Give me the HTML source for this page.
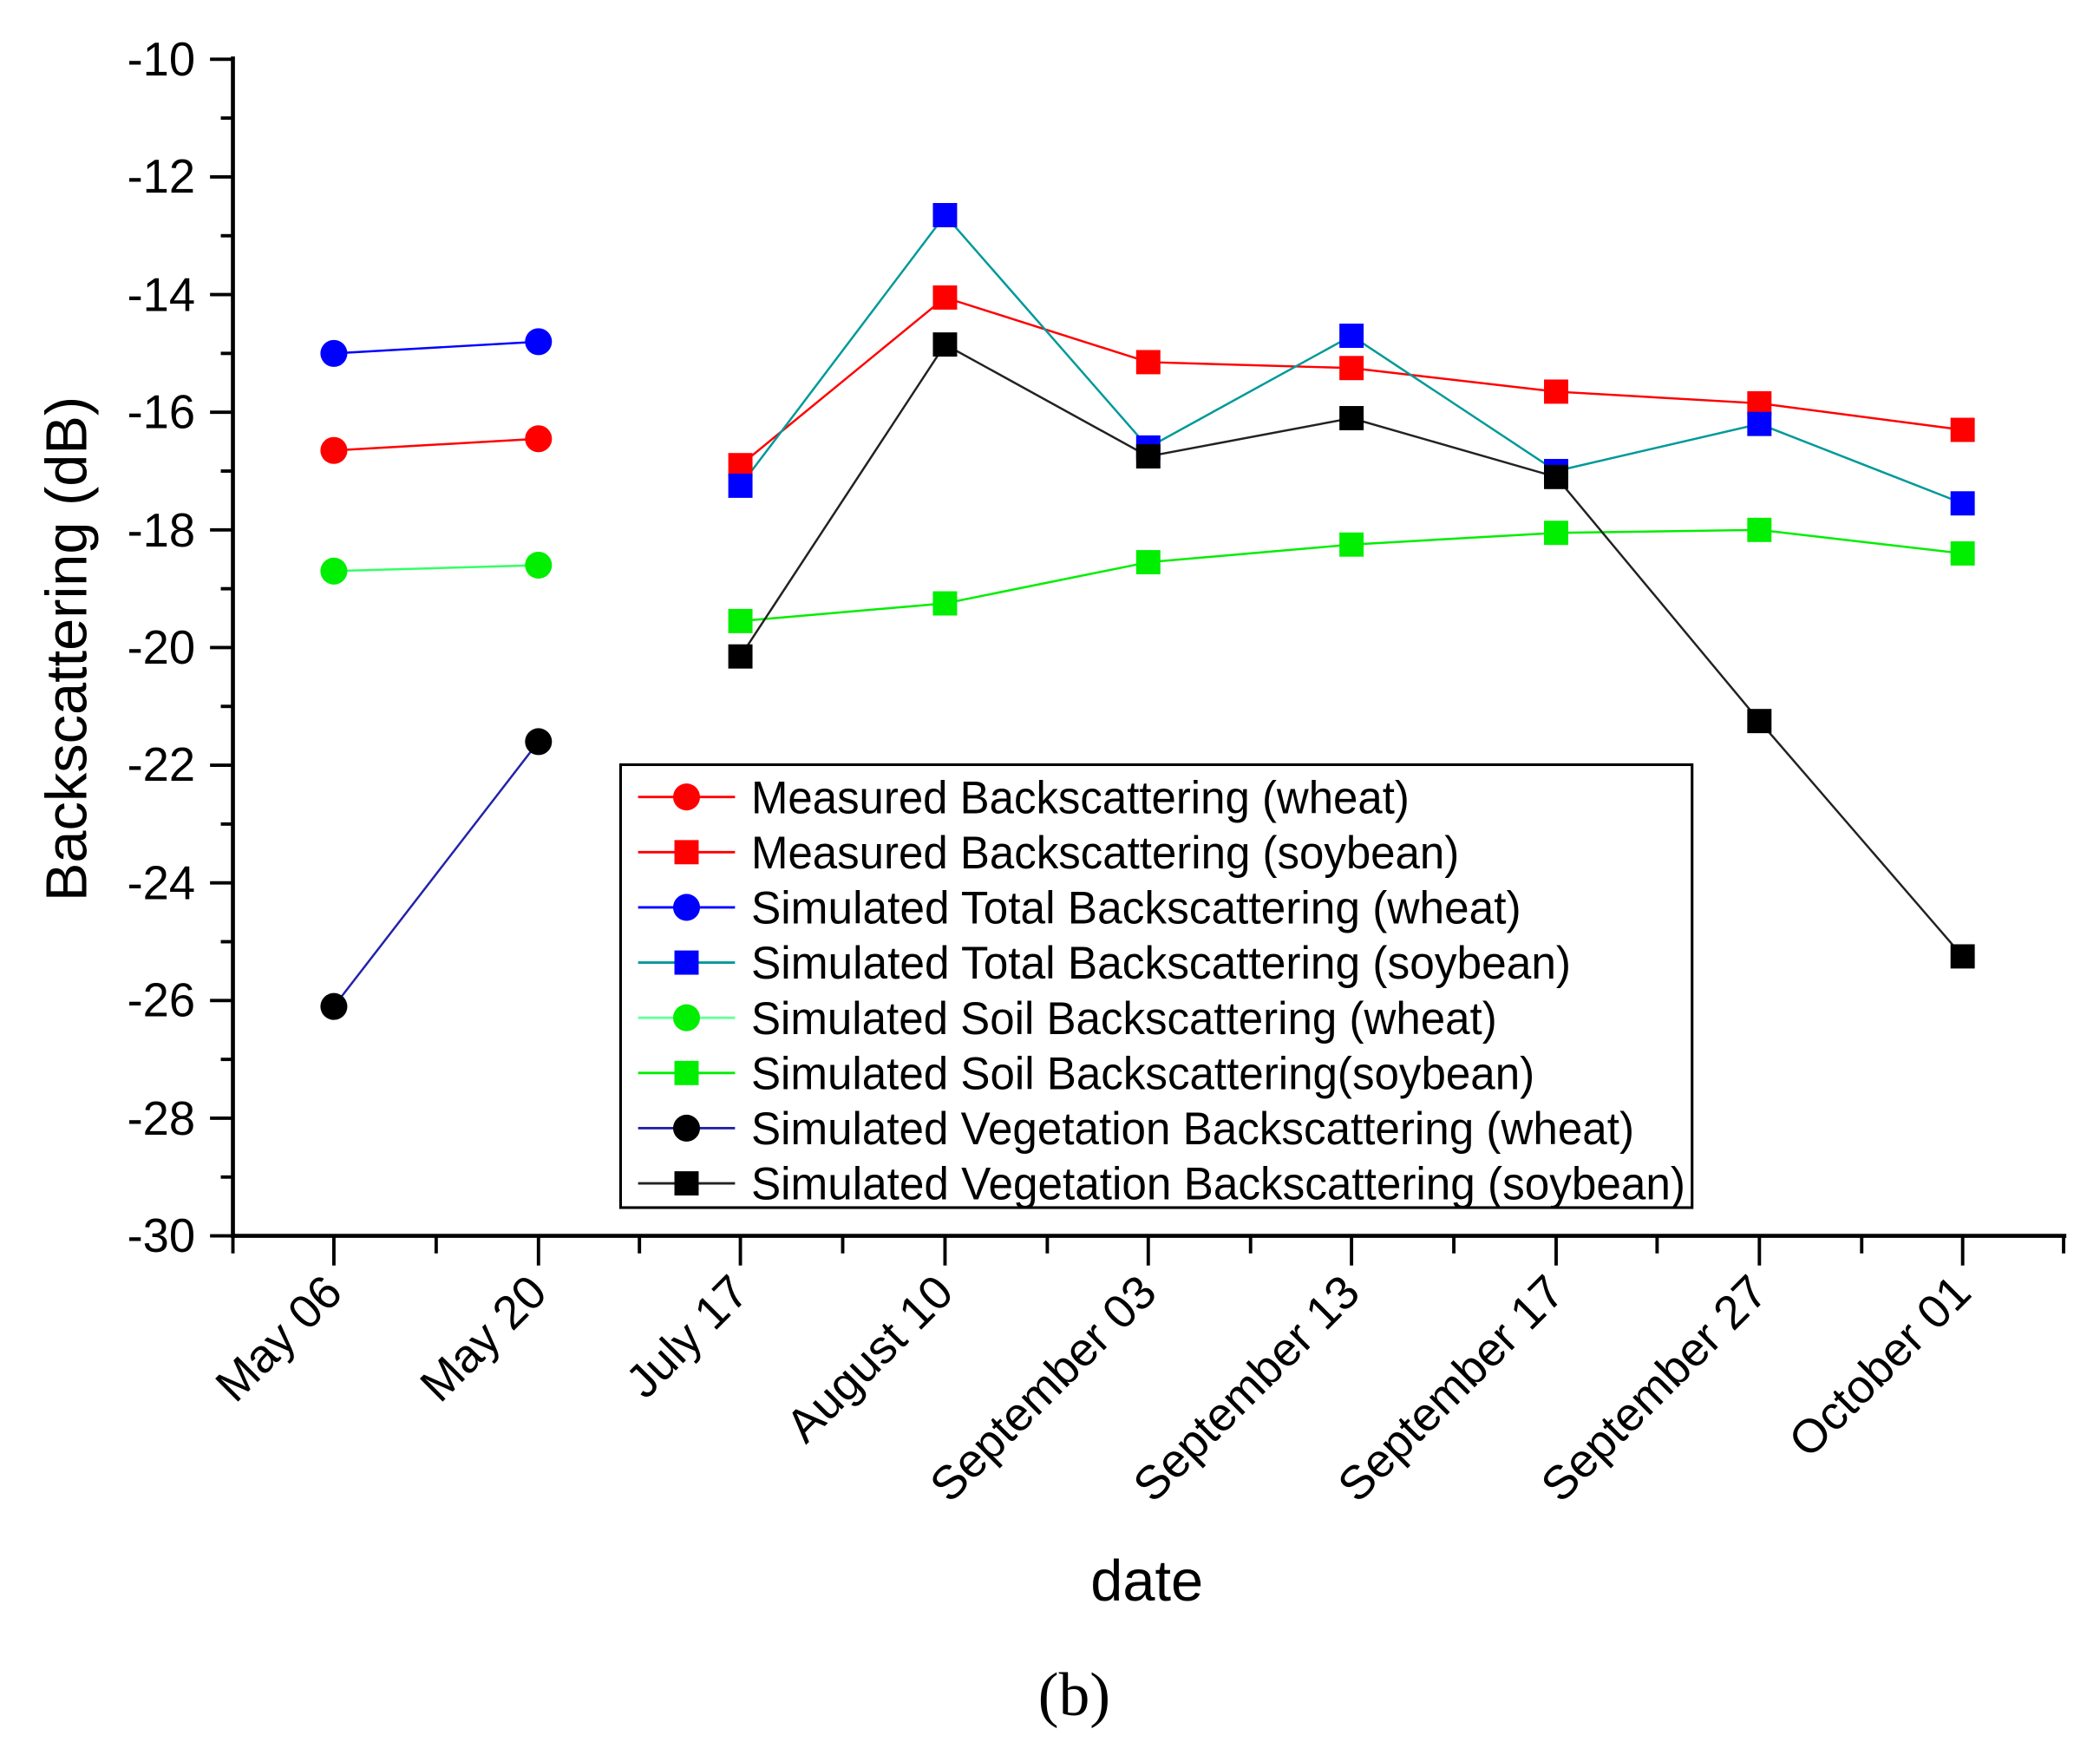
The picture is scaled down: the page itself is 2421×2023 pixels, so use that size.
<!DOCTYPE html>
<html><head><meta charset="utf-8"><style>
html,body{margin:0;padding:0;background:#fff;}
svg{display:block;}
text{font-family:"Liberation Sans",Arial,sans-serif;fill:#000;}
</style></head><body>
<svg width="2421" height="2023" viewBox="0 0 1560 1303.6" xmlns="http://www.w3.org/2000/svg">
<rect width="1560" height="1304" fill="#fff"/>
<g stroke="#000" stroke-width="3" fill="none">
<line x1="173" y1="42" x2="173" y2="919.5"/>
<line x1="171.5" y1="918" x2="1535" y2="918"/>
</g>
<g stroke="#000" stroke-width="2.5">
<line x1="156" y1="44" x2="173" y2="44"/><line x1="156" y1="131.4" x2="173" y2="131.4"/>
<line x1="156" y1="218.8" x2="173" y2="218.8"/><line x1="156" y1="306.2" x2="173" y2="306.2"/>
<line x1="156" y1="393.6" x2="173" y2="393.6"/><line x1="156" y1="481" x2="173" y2="481"/>
<line x1="156" y1="568.4" x2="173" y2="568.4"/><line x1="156" y1="655.8" x2="173" y2="655.8"/>
<line x1="156" y1="743.2" x2="173" y2="743.2"/><line x1="156" y1="830.6" x2="173" y2="830.6"/>
<line x1="156" y1="918" x2="173" y2="918"/>
<line x1="164" y1="87.7" x2="173" y2="87.7"/><line x1="164" y1="175.1" x2="173" y2="175.1"/>
<line x1="164" y1="262.5" x2="173" y2="262.5"/><line x1="164" y1="349.9" x2="173" y2="349.9"/>
<line x1="164" y1="437.3" x2="173" y2="437.3"/><line x1="164" y1="524.7" x2="173" y2="524.7"/>
<line x1="164" y1="612.1" x2="173" y2="612.1"/><line x1="164" y1="699.5" x2="173" y2="699.5"/>
<line x1="164" y1="786.9" x2="173" y2="786.9"/><line x1="164" y1="874.3" x2="173" y2="874.3"/>
<line x1="248" y1="918" x2="248" y2="940"/><line x1="400" y1="918" x2="400" y2="940"/>
<line x1="550" y1="918" x2="550" y2="940"/><line x1="702" y1="918" x2="702" y2="940"/>
<line x1="853" y1="918" x2="853" y2="940"/><line x1="1004" y1="918" x2="1004" y2="940"/>
<line x1="1156" y1="918" x2="1156" y2="940"/><line x1="1307" y1="918" x2="1307" y2="940"/>
<line x1="1458" y1="918" x2="1458" y2="940"/>
<line x1="173" y1="918" x2="173" y2="931"/><line x1="324" y1="918" x2="324" y2="931"/>
<line x1="475" y1="918" x2="475" y2="931"/><line x1="626" y1="918" x2="626" y2="931"/>
<line x1="778" y1="918" x2="778" y2="931"/><line x1="929" y1="918" x2="929" y2="931"/>
<line x1="1080" y1="918" x2="1080" y2="931"/><line x1="1231" y1="918" x2="1231" y2="931"/>
<line x1="1383" y1="918" x2="1383" y2="931"/><line x1="1533" y1="918" x2="1533" y2="931"/>
</g>
<g font-size="35" text-anchor="end">
<text x="145" y="56">-10</text><text x="145" y="143">-12</text><text x="145" y="231">-14</text>
<text x="145" y="318">-16</text><text x="145" y="406">-18</text><text x="145" y="493">-20</text>
<text x="145" y="580">-22</text><text x="145" y="668">-24</text><text x="145" y="755">-26</text>
<text x="145" y="843">-28</text><text x="145" y="930">-30</text>
</g>
<text transform="translate(64,482) rotate(-90)" font-size="43" text-anchor="middle">Backscattering (dB)</text>
<g font-size="35" text-anchor="end">
<text transform="translate(256,962) rotate(-45)">May 06</text>
<text transform="translate(408,962) rotate(-45)">May 20</text>
<text transform="translate(558,962) rotate(-45)">July 17</text>
<text transform="translate(710,962) rotate(-45)">August 10</text>
<text transform="translate(861,962) rotate(-45)">September 03</text>
<text transform="translate(1012,962) rotate(-45)">September 13</text>
<text transform="translate(1164,962) rotate(-45)">September 17</text>
<text transform="translate(1315,962) rotate(-45)">September 27</text>
<text transform="translate(1466,962) rotate(-45)">October 01</text>
</g>
<text x="852" y="1189" font-size="43" text-anchor="middle">date</text>
<text x="798" y="1274" font-size="46" text-anchor="middle" style="font-family:'Liberation Serif',serif">(b)</text>
<g stroke-width="1.6" fill="none">
<polyline points="248,262.5 400,253.8" stroke="#0000ff"/>
<polyline points="248,334.6 400,325.9" stroke="#ff0000"/>
<polyline points="248,424.2 400,419.8" stroke="#33ff66"/>
<polyline points="248,747.6 400,550.9" stroke="#2222aa"/>
<polyline points="550,345.5 702,221 853,269 1004,273.4 1156,290.9 1307,299.6 1458,319.3" stroke="#ff0000"/>
<polyline points="550,360.8 702,159.8 853,332.4 1004,249.4 1156,349.9 1307,314.9 1458,373.9" stroke="#009999"/>
<polyline points="550,461.3 702,448.2 853,417.6 1004,404.5 1156,395.8 1307,393.6 1458,411.1" stroke="#00ee00"/>
<polyline points="550,487.6 702,255.9 853,339 1004,310.6 1156,354.3 1307,535.6 1458,710.4" stroke="#222"/>
</g>
<g>
<circle cx="248" cy="262.5" r="10" fill="#0000ff"/><circle cx="400" cy="253.8" r="10" fill="#0000ff"/>
<circle cx="248" cy="334.6" r="10" fill="#ff0000"/><circle cx="400" cy="325.9" r="10" fill="#ff0000"/>
<circle cx="248" cy="424.2" r="10" fill="#00ee00"/><circle cx="400" cy="419.8" r="10" fill="#00ee00"/>
<circle cx="248" cy="747.6" r="10" fill="#000"/><circle cx="400" cy="550.9" r="10" fill="#000"/>
</g>
<g fill="#ff0000">
<rect x="541" y="336.5" width="18" height="18"/><rect x="693" y="212" width="18" height="18"/>
<rect x="844" y="260" width="18" height="18"/><rect x="995" y="264.4" width="18" height="18"/>
<rect x="1147" y="281.9" width="18" height="18"/><rect x="1298" y="290.6" width="18" height="18"/>
<rect x="1449" y="310.3" width="18" height="18"/>
</g>
<g fill="#0000ff">
<rect x="541" y="351.8" width="18" height="18"/><rect x="693" y="150.8" width="18" height="18"/>
<rect x="844" y="323.4" width="18" height="18"/><rect x="995" y="240.4" width="18" height="18"/>
<rect x="1147" y="340.9" width="18" height="18"/><rect x="1298" y="305.9" width="18" height="18"/>
<rect x="1449" y="364.9" width="18" height="18"/>
</g>
<g fill="#00ee00">
<rect x="541" y="452.3" width="18" height="18"/><rect x="693" y="439.2" width="18" height="18"/>
<rect x="844" y="408.6" width="18" height="18"/><rect x="995" y="395.5" width="18" height="18"/>
<rect x="1147" y="386.8" width="18" height="18"/><rect x="1298" y="384.6" width="18" height="18"/>
<rect x="1449" y="402.1" width="18" height="18"/>
</g>
<g fill="#000">
<rect x="541" y="478.6" width="18" height="18"/><rect x="693" y="246.9" width="18" height="18"/>
<rect x="844" y="330" width="18" height="18"/><rect x="995" y="301.6" width="18" height="18"/>
<rect x="1147" y="345.3" width="18" height="18"/><rect x="1298" y="526.6" width="18" height="18"/>
<rect x="1449" y="701.4" width="18" height="18"/>
</g>
<rect x="461" y="568" width="796" height="329" fill="#fff" stroke="#000" stroke-width="2"/>
<g stroke-width="1.8">
<line x1="474" y1="592" x2="546" y2="592" stroke="#ff0000"/>
<line x1="474" y1="633" x2="546" y2="633" stroke="#ff0000"/>
<line x1="474" y1="674" x2="546" y2="674" stroke="#0000ff"/>
<line x1="474" y1="715" x2="546" y2="715" stroke="#009999"/>
<line x1="474" y1="756" x2="546" y2="756" stroke="#66ff99"/>
<line x1="474" y1="797" x2="546" y2="797" stroke="#00ee00"/>
<line x1="474" y1="838" x2="546" y2="838" stroke="#2222aa"/>
<line x1="474" y1="879" x2="546" y2="879" stroke="#222"/>
</g>
<circle cx="510" cy="592" r="10" fill="#ff0000"/>
<rect x="501" y="624" width="18" height="18" fill="#ff0000"/>
<circle cx="510" cy="674" r="10" fill="#0000ff"/>
<rect x="501" y="706" width="18" height="18" fill="#0000ff"/>
<circle cx="510" cy="756" r="10" fill="#00ee00"/>
<rect x="501" y="788" width="18" height="18" fill="#00ee00"/>
<circle cx="510" cy="838" r="10" fill="#000"/>
<rect x="501" y="870" width="18" height="18" fill="#000"/>
<g font-size="34">
<text x="558" y="604" textLength="489" lengthAdjust="spacingAndGlyphs">Measured Backscattering (wheat)</text>
<text x="558" y="645" textLength="526" lengthAdjust="spacingAndGlyphs">Measured Backscattering (soybean)</text>
<text x="558" y="686" textLength="572" lengthAdjust="spacingAndGlyphs">Simulated Total Backscattering (wheat)</text>
<text x="558" y="727" textLength="609" lengthAdjust="spacingAndGlyphs">Simulated Total Backscattering (soybean)</text>
<text x="558" y="768" textLength="554" lengthAdjust="spacingAndGlyphs">Simulated Soil Backscattering (wheat)</text>
<text x="558" y="809" textLength="582" lengthAdjust="spacingAndGlyphs">Simulated Soil Backscattering(soybean)</text>
<text x="558" y="850" textLength="656" lengthAdjust="spacingAndGlyphs">Simulated Vegetation Backscattering (wheat)</text>
<text x="558" y="891" textLength="694" lengthAdjust="spacingAndGlyphs">Simulated Vegetation Backscattering (soybean)</text>
</g>
</svg>
</body></html>
